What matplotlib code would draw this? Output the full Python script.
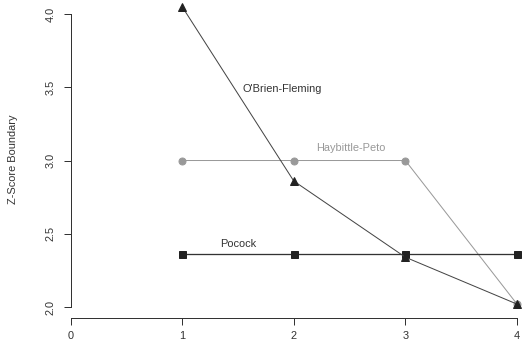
import matplotlib
matplotlib.use("Agg")
import matplotlib.pyplot as plt

# datos
analisis = [1, 2, 3, 4]
obrien_fleming = [4.05, 2.86, 2.34, 2.02]
haybittle_peto = [3.0, 3.0, 3.0, 2.02]
pocock = [2.36, 2.36, 2.36, 2.36]

W, H = 527, 358
plt.rcParams['font.family'] = ['Liberation Sans', 'DejaVu Sans']
fig = plt.figure(figsize=(W / 72, H / 72), dpi=72)

# posición del área de dibujo en pixeles
x0, x1 = 70.5, 522.6
y_top, y_bot = 5.2, 312.9
ax = fig.add_axes([x0 / W, 1 - y_bot / H, (x1 - x0) / W, (y_bot - y_top) / H])
ax.set_xlim(0, 4.05)
ax.set_ylim(1.96, 4.06)

ax.plot(analisis, obrien_fleming, color='#444444', lw=1, marker='^', ms=8,
        mfc='#222222', mec='#222222', clip_on=False, zorder=3)
ax.plot(analisis, haybittle_peto, color='#999999', lw=1, marker='o', ms=7,
        mfc='#999999', mec='#999999', clip_on=False, zorder=2)
ax.plot(analisis, pocock, color='#333333', lw=1.3, marker='s', ms=7,
        mfc='#222222', mec='#222222', clip_on=False, zorder=2)

ax.text(1.90, 3.49, "O'Brien-Fleming", color='#333333', fontsize=11, ha='center', va='center')
ax.text(2.51, 3.085, 'Haybittle-Peto', color='#999999', fontsize=11, ha='center', va='center')
ax.text(1.50, 2.43, 'Pocock', color='#333333', fontsize=11, ha='center', va='center')

# ejes estilo R
for s in ['top', 'right']:
    ax.spines[s].set_visible(False)
ax.spines['bottom'].set_position(('outward', 5))
ax.spines['left'].set_bounds(2.0, 4.0)
ax.spines['bottom'].set_bounds(0, 4)
for s in ['left', 'bottom']:
    ax.spines[s].set_color('#333333')
    ax.spines[s].set_linewidth(1)

ax.set_xticks([0, 1, 2, 3, 4])
ax.set_yticks([2.0, 2.5, 3.0, 3.5, 4.0])
ax.set_yticklabels(['2.0', '2.5', '3.0', '3.5', '4.0'], rotation=90, va='center')
ax.tick_params(direction='out', length=7, width=1, color='#333333',
               labelsize=11, labelcolor='#333333')
ax.tick_params(axis='y', pad=8)
ax.tick_params(axis='x', pad=6)
ax.set_ylabel('Z-Score Boundary', fontsize=11, color='#333333', labelpad=27)
ax.patch.set_alpha(0)

fig.savefig('out.png', dpi=72)
